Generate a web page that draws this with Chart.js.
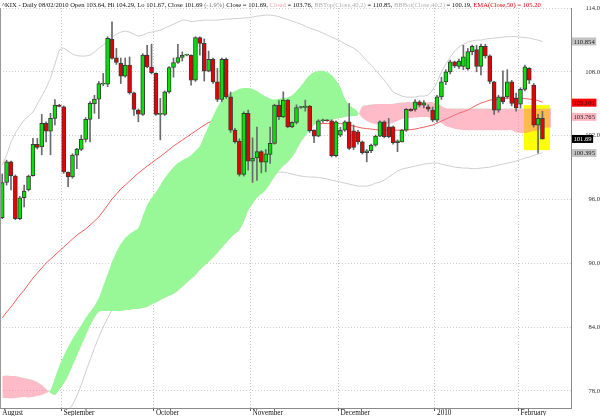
<!DOCTYPE html>
<html>
<head>
<meta charset="utf-8">
<script src="https://cdn.jsdelivr.net/npm/chart.js@4.4.1/dist/chart.umd.min.js"></script>
<style>
  html, body { margin: 0; padding: 0; background: #fff; }
  #wrap { width: 600px; height: 416px; }
</style>
</head>
<body>
<div id="wrap"><canvas id="kix"></canvas></div>
<script>
// trading days shown on the chart, plus a few empty slots on the right
const firstDay = '2009-08-12';
const lastDay = '2010-02-08';
const holidays = ['2009-09-07', '2009-11-26', '2009-12-25', '2010-01-01', '2010-01-18'];
const futureSlots = 6;
const monthNames = ['January','February','March','April','May','June','July','August','September','October','November','December'];

const dates = [];
for (let d = new Date(firstDay + 'T00:00:00Z'); d <= new Date(lastDay + 'T00:00:00Z'); d.setUTCDate(d.getUTCDate() + 1)) {
  const s = d.toISOString().slice(0, 10);
  const wd = d.getUTCDay();
  if (wd === 0 || wd === 6 || holidays.includes(s)) continue;
  dates.push(s);
}
const labels = dates.concat(Array(futureSlots).fill(''));

// daily candles
const open = [
  94.3, 97.6, 99.54, 98.2, 94.2, 96.16, 96.9, 98.23, 101.18, 100.95,
  103.15, 102.43, 103.62, 104.87, 104.71, 98.55, 98.13, 100.17, 100.7, 101.65,
  103.53, 104.99, 105.44, 106.85, 106.85, 111.05, 109.32, 108.79, 107.6, 108.63,
  106.03, 104.4, 103.99, 109.57, 108.44, 107.85, 104.0, 104.0, 106.12, 108.41,
  108.88, 109.35, 109.57, 109.57, 107.22, 111.23, 110.67, 108.07, 109.17, 107.06,
  105.4, 109.17, 105.65, 102.52, 101.49, 98.36, 104.09, 99.6, 99.9, 100.5,
  99.5, 100.24, 101.27, 104.87, 103.77, 105.34, 102.83, 103.25, 104.65, 104.65,
  104.78, 102.52, 101.96, 103.4, 103.45, 103.4, 100.11, 102.05, 102.52, 103.3,
  102.46, 102.36, 101.42, 100.39, 100.58, 101.11, 101.96, 103.3, 102.83, 102.83,
  101.33, 101.42, 102.52, 104.47, 104.47, 105.18, 104.87, 104.71, 104.4, 103.46,
  105.65, 107.06, 108.0, 108.94, 108.5, 108.5, 108.3, 109.9, 110.1, 108.5,
  110.4, 109.5, 107.06, 104.4, 105.65, 105.65, 107.06, 105.5, 104.97, 106.35,
  108.32, 106.75, 102.99, 103.64
];
const high = [
  98.4, 99.7, 99.6, 98.3, 96.3, 97.35, 98.3, 101.74, 101.74, 104.0,
  103.3, 104.1, 105.4, 104.95, 104.8, 98.6, 100.3, 100.8, 102.05, 103.7,
  105.2, 105.8, 107.1, 107.85, 111.3, 112.7, 110.2, 109.3, 109.3, 109.4,
  106.1, 104.5, 109.7, 110.5, 110.6, 107.9, 105.5, 106.2, 108.5, 109.3,
  110.58, 109.88, 109.65, 109.6, 111.3, 111.3, 111.1, 109.95, 109.3, 108.32,
  109.3, 109.3, 106.1, 102.7, 101.7, 104.24, 104.4, 101.8, 102.8, 100.6,
  100.7, 102.8, 104.95, 105.3, 106.12, 105.4, 103.3, 104.9, 104.75, 105.34,
  104.85, 102.55, 103.5, 103.55, 103.5, 103.5, 103.4, 102.8, 103.4, 105.03,
  103.0, 102.5, 101.5, 100.7, 101.2, 102.05, 103.4, 103.4, 103.62, 102.9,
  101.6, 102.6, 104.55, 104.55, 105.4, 105.3, 105.3, 104.9, 104.7, 105.8,
  107.5, 108.2, 109.1, 109.0, 109.2, 110.5, 110.2, 110.5, 110.5, 110.6,
  110.6, 109.6, 107.1, 105.8, 108.1, 108.2, 107.2, 106.0, 106.5, 108.63,
  108.4, 106.9, 104.0, 104.29
];
const low = [
  94.2, 97.35, 96.9, 94.1, 94.1, 95.3, 96.8, 98.2, 100.74, 100.2,
  101.4, 100.2, 103.0, 104.7, 98.45, 97.2, 98.0, 98.9, 100.6, 101.4,
  101.4, 104.1, 103.6, 106.7, 106.6, 109.2, 108.7, 106.9, 107.5, 105.9,
  103.9, 103.3, 103.9, 108.4, 107.8, 103.9, 101.6, 103.9, 106.0, 107.5,
  108.8, 109.0, 109.5, 106.75, 107.1, 109.57, 107.13, 108.0, 106.9, 105.2,
  105.2, 105.5, 102.3, 101.3, 98.2, 98.2, 98.76, 97.6, 97.8, 98.5,
  98.6, 99.4, 101.2, 103.5, 103.7, 102.74, 102.74, 103.1, 104.55, 104.3,
  102.3, 101.33, 101.9, 103.25, 103.35, 100.0, 100.0, 101.9, 102.4, 100.7,
  100.7, 101.2, 100.27, 99.54, 100.4, 101.0, 101.9, 101.8, 101.8, 101.2,
  100.49, 101.4, 102.4, 104.3, 104.3, 104.7, 104.6, 104.3, 103.3, 103.3,
  105.4, 106.8, 107.8, 108.4, 108.3, 108.2, 108.16, 109.6, 108.0, 107.7,
  109.3, 106.9, 104.0, 104.2, 105.0, 105.5, 104.8, 104.3, 104.6, 106.2,
  106.9, 102.8, 100.35, 101.67
];
const close = [
  97.6, 99.54, 98.23, 94.2, 96.16, 96.8, 98.2, 101.18, 100.9, 103.15,
  102.43, 103.62, 104.87, 104.75, 98.6, 98.13, 100.17, 100.74, 101.65, 103.53,
  105.03, 105.44, 106.9, 106.95, 111.14, 109.26, 108.88, 107.6, 108.63, 106.03,
  104.47, 104.03, 109.57, 108.47, 107.91, 104.0, 104.05, 106.12, 108.41, 108.88,
  109.35, 109.57, 109.6, 107.22, 111.23, 110.67, 108.07, 109.17, 107.06, 105.4,
  109.17, 105.65, 102.52, 101.42, 98.36, 104.09, 99.61, 99.9, 100.5, 99.5,
  100.3, 101.27, 104.87, 103.77, 105.34, 102.83, 103.25, 104.65, 104.66, 104.78,
  102.46, 101.96, 103.4, 103.45, 103.4, 100.11, 103.3, 102.52, 103.3, 100.8,
  100.9, 101.42, 100.39, 100.58, 101.11, 101.96, 103.3, 101.9, 101.9, 101.33,
  101.52, 102.52, 104.47, 104.33, 105.18, 104.87, 105.09, 104.5, 103.46, 105.65,
  107.06, 108.0, 108.94, 108.55, 109.0, 109.4, 109.9, 110.4, 108.5, 110.4,
  109.5, 107.1, 104.4, 105.65, 105.2, 107.06, 105.03, 104.6, 106.35, 108.47,
  107.22, 102.99, 103.64, 101.69
];

// Bollinger bands (40,2) and EMA(50)
const bbTop = [
  99.23, 100.17, 101.39, 102.24, 102.9, 103.46, 103.84, 104.21, 104.97, 105.72,
  106.47, 107.41, 108.72, 110.04, 110.23, 109.95, 109.67, 109.52, 109.48, 109.48,
  109.57, 109.85, 110.23, 110.51, 110.89, 111.26, 111.54, 111.73, 111.83, 111.73,
  111.54, 111.36, 111.45, 111.64, 111.73, 111.83, 111.92, 112.11, 112.3, 112.48,
  112.67, 112.86, 112.86, 112.72, 112.77, 112.81, 112.86, 112.86, 112.86, 112.86,
  112.91, 112.95, 112.97, 113.0, 113.02, 113.05, 113.1, 113.14, 113.24, 113.28,
  113.33, 113.33, 113.28, 113.19, 113.05, 112.91, 112.77, 112.63, 112.48, 112.3,
  112.11, 111.97, 111.83, 111.64, 111.45, 111.26, 111.08, 110.89, 110.65, 110.42,
  110.23, 109.95, 109.48, 109.01, 108.63, 108.16, 107.69, 107.22, 106.66, 106.09,
  105.91, 105.72, 105.62, 105.62, 105.62, 105.72, 105.72, 105.81, 106.28, 107.03,
  107.97, 108.72, 109.38, 109.95, 110.32, 110.6, 110.79, 110.89, 110.98, 110.98,
  111.08, 111.12, 111.17, 111.22, 111.26, 111.31, 111.31, 111.31, 111.26, 111.22,
  111.17, 111.08, 110.98, 110.854
];
const bbBot = [
  null, null, null, null, null, null, null, null, null, null,
  null, null, null, null, null, 76.2, 76.68, 77.52, 78.56, 79.78,
  80.9, 82.03, 83.07, 84.01, 84.85, 85.6, 86.36, 87.01, 87.67, 88.33,
  88.99, 89.55, 90.12, 90.68, 91.24, 91.71, 92.18, 92.65, 93.12, 93.59,
  94.06, 94.53, 94.91, 95.29, 95.66, 96.04, 96.41, 96.7, 96.98, 97.26,
  97.54, 97.73, 97.92, 98.11, 98.29, 98.39, 98.48, 98.57, 98.57, 98.57,
  98.62, 98.62, 98.57, 98.57, 98.57, 98.48, 98.39, 98.29, 98.2, 98.15,
  98.11, 98.11, 98.06, 98.01, 97.92, 97.82, 97.73, 97.63, 97.54, 97.45,
  97.35, 97.26, 97.26, 97.26, 97.35, 97.54, 97.63, 97.82, 98.11, 98.39,
  98.67, 98.86, 98.95, 99.04, 99.14, 99.23, 99.33, 99.37, 99.42, 99.42,
  99.33, 99.23, 99.14, 99.04, 99.0, 98.95, 98.95, 98.9, 98.9, 98.95,
  99.0, 99.04, 99.14, 99.23, 99.33, 99.42, 99.51, 99.61, 99.75, 99.89,
  99.98, 100.13, 100.27, 100.395
];
const ema = [
  84.85, 85.42, 85.89, 86.45, 87.01, 87.48, 88.05, 88.61, 89.08, 89.55,
  90.02, 90.4, 90.77, 91.15, 91.53, 91.9, 92.28, 92.65, 92.94, 93.22,
  93.59, 93.97, 94.35, 94.91, 95.47, 96.04, 96.51, 96.98, 97.35, 97.73,
  98.11, 98.48, 98.81, 99.14, 99.42, 99.75, 100.03, 100.36, 100.69, 101.02,
  101.3, 101.58, 101.86, 102.15, 102.43, 102.71, 102.99, 103.23, 103.41, 103.51,
  103.6, 103.65, 103.7, 103.74, 103.74, 103.74, 103.74, 103.7, 103.65, 103.65,
  103.6, 103.56, 103.56, 103.51, 103.46, 103.41, 103.37, 103.32, 103.27, 103.23,
  103.18, 103.15, 103.15, 103.15, 103.15, 103.15, 103.15, 103.13, 103.09, 102.99,
  102.9, 102.8, 102.71, 102.66, 102.62, 102.57, 102.52, 102.52, 102.52, 102.52,
  102.52, 102.52, 102.52, 102.57, 102.62, 102.71, 102.8, 102.9, 103.0, 103.18,
  103.37, 103.56, 103.74, 103.93, 104.12, 104.26, 104.4, 104.64, 104.87, 105.06,
  105.2, 105.34, 105.39, 105.44, 105.48, 105.53, 105.53, 105.53, 105.53, 105.48,
  105.44, 105.39, 105.3, 105.15
];

// Ichimoku cloud edges (span A, span B), running 2 slots past the last candle
const cloudA = [
  77.33, 77.33, 77.29, 77.33, 77.38, 77.43, 77.38, 77.43, 77.52, 77.62,
  77.8, 78.09, 79.21, 80.34, 81.28, 82.13, 82.88, 83.54, 84.19, 84.85,
  85.42, 85.98, 86.73, 87.86, 88.99, 90.12, 91.06, 91.81, 92.37, 92.75,
  93.03, 93.31, 94.44, 95.47, 96.13, 96.7, 97.35, 98.01, 98.57, 99.04,
  99.42, 99.7, 99.89, 100.17, 100.55, 101.02, 101.96, 102.9, 103.84, 104.68,
  105.34, 105.72, 106.0, 106.19, 106.38, 106.47, 106.47, 106.38, 106.19, 105.91,
  105.67, 105.48, 105.39, 105.48, 105.53, 105.62, 105.81, 106.19, 106.66, 107.22,
  107.69, 107.97, 108.07, 108.1, 107.97, 107.69, 107.22, 106.56, 105.53, 104.87,
  104.59, 104.21, 103.65, 103.37, 103.18, 103.09, 102.99, 102.99, 103.09, 103.18,
  103.37, 103.56, 103.65, 103.65, 103.7, 103.74, 103.74, 103.74, 103.65, 103.56,
  103.18, 102.9, 102.76, 102.66, 102.57, 102.52, 102.52, 102.52, 102.52, 102.52,
  102.52, 102.52, 102.52, 102.52, 102.52, 102.52, 102.52, 102.33, 102.24, 102.24,
  102.33, 102.43, 102.52, 102.66, 102.76, 102.8
];
const cloudB = [
  79.4, 79.45, 79.4, 79.4, 79.31, 79.21, 79.12, 79.03, 78.84, 78.56,
  78.18, 77.8, 77.62, 78.09, 78.65, 79.4, 80.34, 81.28, 82.22, 83.16,
  84.1, 84.85, 85.42, 85.51, 85.51, 85.51, 85.51, 85.51, 85.6, 85.6,
  85.7, 85.7, 85.79, 85.9, 86.1, 86.3, 86.54, 86.73, 86.92, 87.11,
  87.39, 87.77, 88.14, 88.52, 88.89, 89.36, 89.74, 90.12, 90.49, 90.96,
  91.43, 91.9, 92.37, 92.75, 93.12, 93.88, 94.91, 95.57, 96.13, 96.51,
  96.88, 97.45, 98.11, 98.67, 99.14, 99.51, 99.98, 100.64, 101.39, 101.96,
  102.52, 102.99, 103.27, 103.37, 103.41, 103.46, 103.56, 103.65, 103.74, 103.79,
  103.84, 103.93, 104.78, 104.87, 104.92, 104.97, 104.97, 104.97, 104.97, 105.01,
  105.06, 105.11, 105.15, 105.15, 105.15, 105.15, 105.15, 105.15, 105.15, 105.06,
  104.78, 104.59, 104.56, 104.56, 104.56, 104.56, 104.56, 104.56, 104.56, 104.56,
  104.56, 104.56, 104.56, 104.56, 104.56, 104.56, 104.56, 104.56, 104.56, 104.56,
  104.56, 104.56, 104.56, 104.56, 104.56, 104.56
];

const yTicks = [78, 84, 90, 96, 102, 108, 114];
const tagValues = [110.854, 105.101, 103.765, 101.69, 100.395];
const tagColors = [['#c4c4c4', '#222'], ['#ff0000', '#111'], ['#ffb6c1', '#222'], ['#000000', '#fff'], ['#c4c4c4', '#222']];
const highlight = { from: 118.8, to: 124.7, low: 100.64, high: 104.87 };

const headerParts = [
  ['^KIX - Daily 08/02/2010 Open 103.64, Hi 104.29, Lo 101.67, Close 101.69 ', '#111'],
  ['(-1.9%)', '#777'],
  [' Close = 101.69, ', '#111'],
  ['Cloud', '#f2a2b2'],
  [' = 103.76, ', '#111'],
  ['BBTop(Close,40,2)', '#b0b0b0'],
  [' = 110.85, ', '#111'],
  ['BBBot(Close,40,2)', '#b0b0b0'],
  [' = 100.19, ', '#111'],
  ['EMA(Close,50) = 105.20', '#e00000']
];

const FONT = '"Liberation Serif", "DejaVu Serif", serif';

function monthLabel(i) {
  const d = dates[i];
  if (!d) return '';
  if (i > 0 && dates[i - 1].slice(0, 7) === d.slice(0, 7)) return '';
  const m = +d.slice(5, 7) - 1;
  return m === 0 ? d.slice(0, 4) : monthNames[m];
}
const isMonthStart = i => i > 0 && monthLabel(i) !== '';

const up = '#00e400', down = '#e80000';
const bodyColors = open.map((o, i) => close[i] >= o ? up : down);

const extras = {
  id: 'extras',
  beforeDatasetsDraw(chart) {
    const { ctx, scales: { x, y } } = chart;
    ctx.save();
    ctx.fillStyle = '#ffff00';
    const x0 = x.getPixelForValue(highlight.from), x1 = x.getPixelForValue(highlight.to);
    const y0 = y.getPixelForValue(highlight.high), y1 = y.getPixelForValue(highlight.low);
    ctx.fillRect(x0, y0, x1 - x0, y1 - y0);
    ctx.restore();
  },
  afterDraw(chart) {
    const { ctx, chartArea, scales: { y } } = chart;
    ctx.save();
    // left frame
    ctx.strokeStyle = '#999';
    ctx.lineWidth = 1;
    ctx.beginPath();
    ctx.moveTo(chartArea.left + 0.5, chartArea.top);
    ctx.lineTo(chartArea.left + 0.5, chartArea.bottom);
    ctx.stroke();

    // header line
    ctx.font = '6.6px ' + FONT;
    ctx.textBaseline = 'alphabetic';
    let hx = 2;
    headerParts.forEach(([t, c]) => {
      ctx.fillStyle = c;
      ctx.fillText(t, hx, 6.8);
      hx += ctx.measureText(t).width;
    });

    // value tags on the right axis
    ctx.font = '6.6px ' + FONT;
    ctx.textBaseline = 'middle';
    let prev = -100;
    tagValues.forEach((v, i) => {
      let ty = y.getPixelForValue(v);
      if (ty < prev + 14) ty = prev + 14;
      prev = ty;
      const txt = String(v);
      const w = ctx.measureText(txt).width + 3;
      ctx.fillStyle = tagColors[i][0];
      ctx.fillRect(chartArea.right + 1, ty - 4, w, 8);
      ctx.fillStyle = tagColors[i][1];
      ctx.fillText(txt, chartArea.right + 2.5, ty + 0.5);
    });
    ctx.restore();
  }
};

new Chart(document.getElementById('kix'), {
  type: 'bar',
  data: {
    labels,
    datasets: [
      { type: 'line', label: 'BBTop', data: bbTop, borderColor: '#cfcfcf', borderWidth: 1, pointRadius: 0, fill: false, order: 5 },
      { type: 'line', label: 'BBBot', data: bbBot, borderColor: '#cfcfcf', borderWidth: 1, pointRadius: 0, fill: false, order: 5 },
      { type: 'line', label: 'EMA', data: ema, borderColor: 'rgba(240,40,40,0.75)', borderWidth: 1, pointRadius: 0, fill: false, order: 5 },
      { type: 'line', label: 'SpanA', data: cloudA, borderWidth: 0, borderColor: 'rgba(0,0,0,0)', pointRadius: 0, tension: 0.3,
        fill: { target: '+1', above: 'rgb(152,248,152)', below: 'rgba(255,120,145,0.5)' }, order: 4 },
      { type: 'line', label: 'SpanB', data: cloudB, borderWidth: 0, borderColor: 'rgba(0,0,0,0)', pointRadius: 0, tension: 0.3, fill: false, order: 4 },
      { label: 'Range', data: low.map((l, i) => [l, high[i]]), backgroundColor: '#6a6a6a', barThickness: 1, grouped: false, order: 2 },
      { label: 'Body', data: open.map((o, i) => [o, close[i]]), backgroundColor: bodyColors, borderColor: '#3a3a3a', borderWidth: 1,
        borderSkipped: false, barThickness: 4, minBarLength: 1, grouped: false, order: 1 }
    ]
  },
  options: {
    responsive: true,
    maintainAspectRatio: false,
    animation: false,
    layout: { padding: { top: 8, left: 0, right: 0, bottom: 0 } },
    plugins: { legend: { display: false }, tooltip: { enabled: false } },
    scales: {
      x: {
        offset: true,
        grid: {
          offset: true,
          color: c => isMonthStart(c.index) ? '#c8c8c8' : 'rgba(0,0,0,0)',
          tickColor: c => isMonthStart(c.index) ? '#555' : 'rgba(0,0,0,0)',
          tickLength: 3
        },
        border: { color: '#8a8a8a', dash: [1, 2] },
        ticks: {
          autoSkip: false, maxRotation: 0, minRotation: 0, align: 'start', padding: -2,
          color: '#111', font: { family: FONT, size: 7.2 },
          callback: (v, i) => monthLabel(i)
        },
        afterFit: s => { s.height = 8; }
      },
      y: {
        position: 'right',
        min: 76.4,
        max: 114,
        afterBuildTicks: s => { s.ticks = yTicks.map(v => ({ value: v })); },
        grid: { color: '#cfcfcf', drawTicks: false },
        border: { color: '#8a8a8a', dash: [1, 2] },
        ticks: {
          crossAlign: 'far', padding: 2, color: '#333',
          font: { family: FONT, size: 6.6 },
          callback: v => Number(v).toFixed(1)
        },
        afterFit: s => { s.width = 29; }
      }
    }
  },
  plugins: [extras]
});
</script>
</body>
</html>
